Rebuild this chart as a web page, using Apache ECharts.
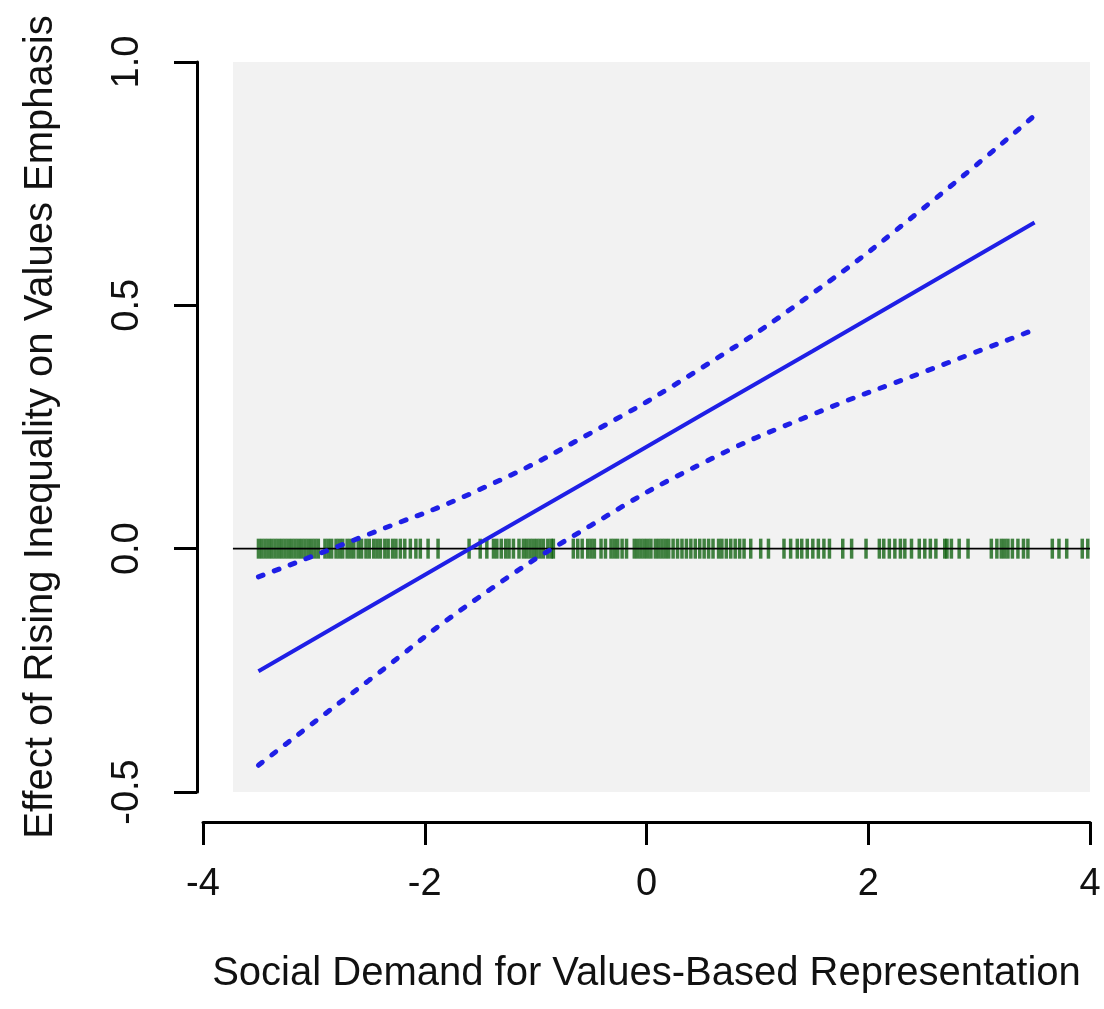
<!DOCTYPE html>
<html>
<head>
<meta charset="utf-8">
<script src="https://cdn.jsdelivr.net/npm/echarts@6/dist/echarts.min.js"></script>
<style>html,body{margin:0;padding:0;background:#fff;}#c{width:1104px;height:1009px;}</style>
</head>
<body>
<div id="c"></div>
<script>
// x positions of the curve points
const curveX = [-3.5, -2.5, -1.5, -0.5, 0.5, 1.5, 2.5, 3.5];
// marginal effect (solid line)
const effect = [-0.252, -0.120, 0.012, 0.143, 0.275, 0.406, 0.538, 0.670];
// upper confidence bound (dashed)
const upper = [-0.058, 0.030, 0.122, 0.238, 0.372, 0.525, 0.700, 0.890];
// lower confidence bound (dashed)
const lower = [-0.445, -0.270, -0.098, 0.048, 0.175, 0.276, 0.363, 0.450];
// rug: observed values of the moderator
const rugX = [
  -3.50,-3.47,-3.44,-3.41,-3.38,-3.35,-3.32,-3.29,-3.26,-3.23,-3.20,-3.17,-3.14,-3.11,-3.08,-3.05,-3.02,-2.99,-2.96,
  -2.90,-2.87,-2.84,-2.80,-2.77,-2.74,-2.70,-2.67,-2.64,
  -2.60,-2.57,-2.53,-2.50,-2.46,-2.43,-2.40,-2.36,-2.33,-2.29,-2.26,
  -2.22,-2.18,-2.13,-2.08,-2.04,-1.97,-1.88,
  -1.60,-1.50,-1.44,
  -1.38,-1.35,-1.31,-1.27,-1.24,-1.20,-1.15,
  -1.11,-1.08,-1.05,-1.02,-0.99,-0.96,-0.93,-0.89,-0.86,-0.84,
  -0.66,-0.62,-0.58,-0.53,-0.50,-0.47,
  -0.41,-0.37,-0.32,-0.29,-0.26,-0.22,-0.18,
  -0.11,-0.08,-0.05,-0.02,0.01,0.04,0.08,0.11,0.14,0.17,0.20,0.24,0.28,0.32,0.36,0.40,0.44,0.48,0.52,0.56,0.60,0.65,
  0.68,0.72,0.76,0.80,0.84,0.88,0.94,
  1.03,1.10,1.24,1.30,1.36,1.40,
  1.45,1.50,1.55,1.60,1.65,1.77,1.85,1.98,
  2.10,2.14,2.19,2.24,2.29,2.33,2.39,
  2.46,2.51,2.56,2.61,2.69,2.71,2.75,2.82,2.90,
  3.11,3.16,3.20,3.23,3.26,3.30,3.35,3.40,3.44,
  3.66,3.72,3.79,3.93,3.98
];
// axis ticks
const xTicks = [-4, -2, 0, 2, 4];
const yTicks = [-0.5, 0.0, 0.5, 1.0];
// shaded panel extent
const panelX = [-3.73, 4];
const panelY = [-0.5, 1.0];

const pair = (xs, ys) => xs.map((x, i) => [x, ys[i]]);
const font = 'Liberation Sans, Arial, Helvetica, sans-serif';
const blue = '#1f1fe6';

const chart = echarts.init(document.getElementById('c'), null, {renderer: 'canvas'});
chart.setOption({
  animation: false,
  backgroundColor: '#ffffff',
  grid: {left: 203, right: 14, top: 62, bottom: 217, containLabel: false},
  xAxis: {
    type: 'value', min: xTicks[0], max: xTicks[xTicks.length - 1], interval: 2,
    offset: 30,
    name: 'Social Demand for Values-Based Representation',
    nameLocation: 'middle', nameGap: 132,
    nameTextStyle: {fontFamily: font, fontSize: 40, color: '#111'},
    axisLine: {show: true, onZero: false, lineStyle: {color: '#000', width: 3}},
    axisTick: {show: true, length: 23, lineStyle: {color: '#000', width: 3}},
    axisLabel: {fontFamily: font, fontSize: 38, color: '#111', margin: 44},
    splitLine: {show: false}
  },
  yAxis: {
    type: 'value', min: yTicks[0], max: yTicks[yTicks.length - 1], interval: 0.5,
    offset: 6,
    name: 'Effect of Rising Inequality on Values Emphasis',
    nameLocation: 'middle', nameGap: 136,
    nameTextStyle: {fontFamily: font, fontSize: 40, color: '#111'},
    axisLine: {show: true, onZero: false, lineStyle: {color: '#000', width: 3}},
    axisTick: {show: true, length: 23, lineStyle: {color: '#000', width: 3}},
    axisLabel: {fontFamily: font, fontSize: 38, color: '#111', margin: 50, rotate: 90,
      formatter: v => v.toFixed(1)},
    splitLine: {show: false}
  },
  series: [
    {
      type: 'line', data: [], silent: true,
      markArea: {
        silent: true,
        itemStyle: {color: '#f2f2f2'},
        data: [[{coord: [panelX[0], panelY[0]]}, {coord: [panelX[1], panelY[1]]}]]
      },
      z: 1
    },
    {
      type: 'scatter', data: rugX.map(x => [x, 0]), symbol: 'rect', symbolSize: [3.5, 20],
      itemStyle: {color: 'rgba(0,88,0,0.92)'}, silent: true, z: 2
    },
    {
      type: 'line', data: [[panelX[0], 0], [panelX[1], 0]], symbol: 'none',
      lineStyle: {color: '#000', width: 1.8}, silent: true, z: 3
    },
    {
      type: 'line', data: pair(curveX, upper), symbol: 'none', smooth: true,
      lineStyle: {color: blue, width: 5, type: [5, 12], cap: 'round'}, silent: true, z: 4
    },
    {
      type: 'line', data: pair(curveX, lower), symbol: 'none', smooth: true,
      lineStyle: {color: blue, width: 5, type: [5, 12], cap: 'round'}, silent: true, z: 4
    },
    {
      type: 'line', data: pair(curveX, effect), symbol: 'none',
      lineStyle: {color: blue, width: 4}, silent: true, z: 4
    }
  ]
});
</script>
</body>
</html>
